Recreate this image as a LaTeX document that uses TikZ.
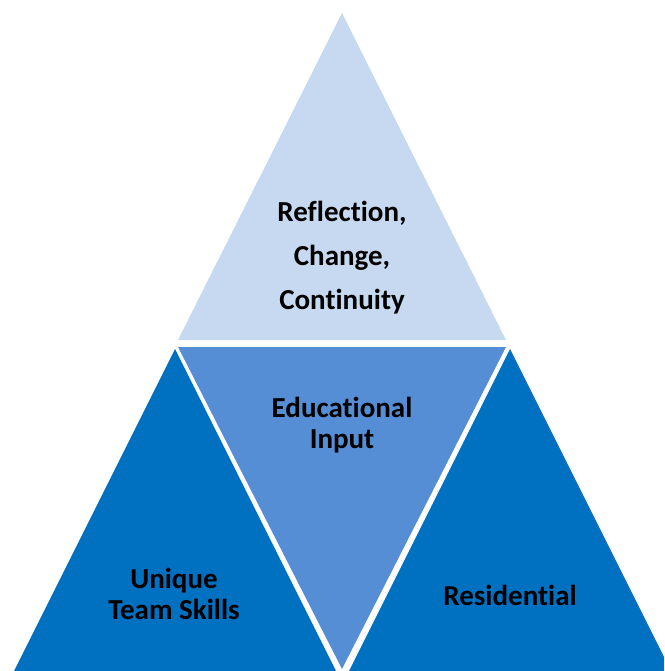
\documentclass[tikz,border=0pt]{standalone}
\usepackage{fontspec}
\setmainfont[Ligatures=NoCommon]{Carlito}
\definecolor{toplight}{HTML}{C6D9F0}
\definecolor{midblue}{HTML}{558ED5}
\definecolor{outerblue}{HTML}{0070C0}
\begin{document}
\begin{tikzpicture}[x=1pt,y=-1pt,
  lbl/.style={font=\bfseries\fontsize{29}{30.5}\selectfont,align=center,text=black,inner sep=0pt}]
\useasboundingbox (0,0) rectangle (664,671);
\clip (0,0) rectangle (664,671);
\fill[toplight] (342,13) -- (178,340) -- (506,340) -- cycle;
\fill[midblue] (178,347) -- (506,347) -- (342,669) -- cycle;
\fill[outerblue] (175,349) -- (13,673) -- (337,673) -- cycle;
\fill[outerblue] (510,349) -- (348,673) -- (672,673) -- cycle;
\node[lbl] (t1) at (342,213) {Reflection,};
\node[lbl] (t2) at (342,258) {Change,};
\node[lbl] (t3) at (342,302) {Continuity};
\node[lbl] (mid) at (342,425) {Educational\\Input};
\node[lbl] (left) at (174,594) {Unique\\Team Skills};
\node[lbl] (right) at (510,595) {Residential};
\end{tikzpicture}
\end{document}
